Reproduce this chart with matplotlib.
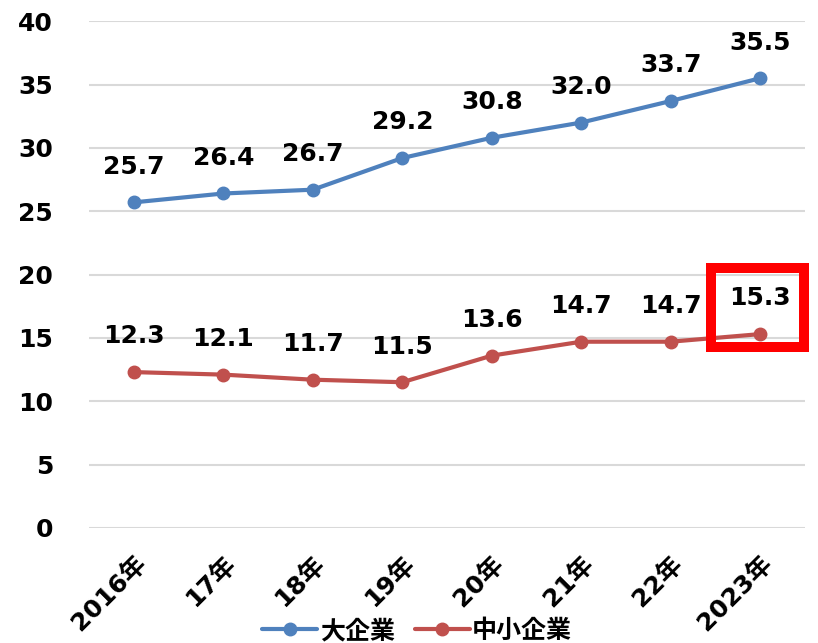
import numpy as np
import matplotlib.pyplot as plt
from matplotlib.patches import Rectangle

plt.rcParams['font.family'] = ['DejaVu Sans', 'Noto Sans CJK JP']
plt.rcParams['font.weight'] = 'bold'

years = ['2016年', '17年', '18年', '19年', '20年', '21年', '22年', '2023年']
large = [25.7, 26.4, 26.7, 29.2, 30.8, 32.0, 33.7, 35.5]
small = [12.3, 12.1, 11.7, 11.5, 13.6, 14.7, 14.7, 15.3]

blue = '#4F81BD'
red = '#C0504D'

fig = plt.figure(figsize=(8.18, 6.43), dpi=100)
ax = fig.add_axes([0.109, 0.179, 0.875, 0.788])

x = np.arange(len(years))
ax.plot(x, large, color=blue, lw=3, marker='o', ms=9, label='大企業', solid_capstyle='round')
ax.plot(x, small, color=red, lw=3, marker='o', ms=9, label='中小企業', solid_capstyle='round')

for series in (large, small):
    for xi, v in zip(x, series):
        ax.annotate(f'{v:.1f}', (xi, v), xytext=(0, 17), textcoords='offset points',
                    ha='center', va='bottom', fontsize=18, fontweight='bold')

# highlight the latest SME value
ax.add_patch(Rectangle((6.45, 14.28), 1.04, 6.23, fill=False, edgecolor='#FF0000',
                       lw=7.2, clip_on=False, zorder=5))

ax.set_xlim(-0.5, 7.5)
ax.set_ylim(0, 40)
ax.set_yticks(np.arange(0, 41, 5))
ax.yaxis.grid(True, color='#D9D9D9', lw=1.5)
ax.set_axisbelow(True)
for s in ax.spines.values():
    s.set_visible(False)
ax.tick_params(length=0, labelsize=18, pad=26)
ax.tick_params(axis='x', pad=17)
ax.set_xticks(x)
ax.set_xticklabels(years, rotation=45, ha='right', rotation_mode='anchor', fontsize=18)

fig.legend(loc='lower center', bbox_to_anchor=(0.51, -0.035), ncol=2, frameon=False,
           fontsize=18, handlelength=2.2, columnspacing=0.8, handletextpad=0.1)

fig.savefig('out.png', dpi=100)
